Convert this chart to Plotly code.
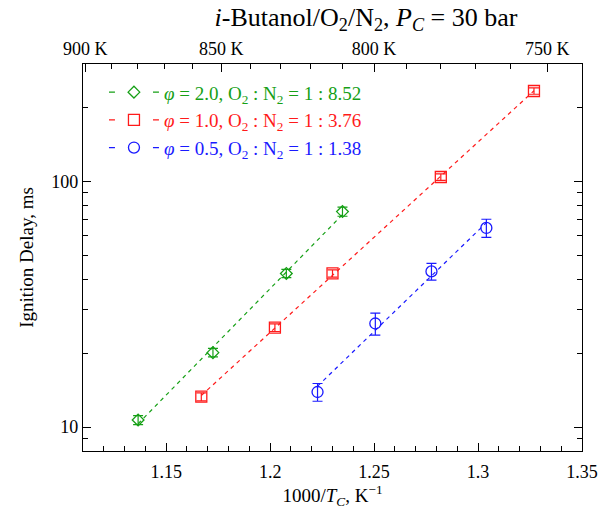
import numpy as np
import plotly.graph_objects as go

# ---------------- data ----------------
green_x = [1.1365, 1.1725, 1.2078, 1.2348]
green_y = [10.7, 20.1, 42.2, 75.3]
green_err = [0.45, 0.8, 1.6, 3.2]

red_x = [1.1669, 1.2023, 1.2300, 1.2821, 1.3269]
red_y = [13.3, 25.4, 42.2, 104.1, 233.0]
red_err = [0.5, 0.9, 1.4, 3.2, 7.0]

blue_x = [1.2228, 1.2506, 1.2776, 1.3040]
blue_y = [13.9, 26.4, 43.0, 64.6]
blue_err = [1.15, 2.7, 3.4, 5.5]

legend_labels = [
    '<i>φ</i> = 2.0, O<sub>2</sub> : N<sub>2</sub> = 1 : 8.52',
    '<i>φ</i> = 1.0, O<sub>2</sub> : N<sub>2</sub> = 1 : 3.76',
    '<i>φ</i> = 0.5, O<sub>2</sub> : N<sub>2</sub> = 1 : 1.38',
]

x_ticks = [1.15, 1.2, 1.25, 1.3, 1.35]
x_ticklabels = ['1.15', '1.2', '1.25', '1.3', '1.35']
x_minor = [1.12, 1.13, 1.14, 1.16, 1.17, 1.18, 1.19, 1.21, 1.22, 1.23, 1.24,
           1.26, 1.27, 1.28, 1.29, 1.31, 1.32, 1.33, 1.34]
top_temps = [900, 850, 800, 750]
top_minor_temps = [890, 880, 870, 860, 840, 830, 820, 810, 790, 780, 770, 760, 740]
y_ticks = [10, 100]
y_minor = [8, 9, 20, 30, 40, 50, 60, 70, 80, 90, 200, 300]

GREEN = '#16a016'
RED = '#ff1a1a'
BLUE = '#1a1aff'
FONT = 'Liberation Serif'
X_RANGE = [1.11, 1.35]
Y_RANGE = [np.log10(8), np.log10(300)]

fig = go.Figure()

series = [
    (green_x, green_y, green_err, GREEN, 'diamond-open', 9, legend_labels[0]),
    (red_x, red_y, red_err, RED, 'square-open', 11, legend_labels[1]),
    (blue_x, blue_y, blue_err, BLUE, 'circle-open', 11, legend_labels[2]),
]

for xs, ys, es, col, sym, msize, lab in series:
    xa = np.array(xs)
    coef = np.polyfit(xa, np.log10(ys), 1)
    xf = np.array([xa.min(), xa.max()])
    yf = 10 ** np.polyval(coef, xf)
    fig.add_trace(go.Scatter(x=xf, y=yf, mode='lines', showlegend=False,
                             line=dict(color=col, width=1.2, dash='4px,4px'),
                             hoverinfo='skip'))
    fig.add_trace(go.Scatter(x=xs, y=ys, mode='markers', showlegend=False,
                             marker=dict(symbol=sym, size=msize, color=col,
                                         line=dict(width=1.3, color=col)),
                             error_y=dict(type='data', array=es, color=col,
                                          thickness=1.2, width=5)))
    fig.add_trace(go.Scatter(x=[None], y=[None], mode='lines+markers',
                             name='<span style="color:%s">%s</span>' % (col, lab),
                             marker=dict(symbol=sym, size=msize, color=col,
                                         line=dict(width=1.3, color=col)),
                             line=dict(color=col, width=1.2, dash='6px,38px,6px')))

# invisible traces that activate the extra tick axes
inv = dict(mode='markers', marker=dict(opacity=0), showlegend=False, hoverinfo='skip')
fig.add_trace(go.Scatter(x=[1000.0 / t for t in top_temps], y=[y_ticks[0]] * len(top_temps),
                         xaxis='x2', yaxis='y', **inv))
fig.add_trace(go.Scatter(x=[1000.0 / t for t in top_minor_temps],
                         y=[y_ticks[0]] * len(top_minor_temps), xaxis='x4', yaxis='y', **inv))
fig.add_trace(go.Scatter(x=x_minor[:len(y_minor)], y=y_minor, xaxis='x3', yaxis='y2', **inv))

axis_font = dict(family=FONT, size=18, color='black')
common = dict(showgrid=False, zeroline=False, automargin=False,
              tickcolor='black', tickwidth=1)

fig.update_layout(
    width=607, height=512,
    margin=dict(l=83, r=25, t=64, b=61),
    paper_bgcolor='white', plot_bgcolor='white',
    font=dict(family=FONT, size=17, color='black'),
    title=dict(text='<i>i</i>-Butanol/O<sub>2</sub>/N<sub>2</sub>, <i>P<sub>C</sub></i> = 30 bar',
               x=0.603, xanchor='center', y=0.967, yanchor='middle',
               font=dict(family=FONT, size=26, color='black')),
    showlegend=True,
    legend=dict(x=0.042, y=0.976, xanchor='left', yanchor='top',
                bgcolor='rgba(0,0,0,0)', font=dict(family=FONT, size=19),
                itemwidth=50, tracegroupgap=0),
    xaxis=dict(range=X_RANGE, tickmode='array', tickvals=x_ticks, ticktext=x_ticklabels,
               ticks='inside', ticklen=8, ticklabelstandoff=4,
               showline=True, linecolor='black', linewidth=1.2, mirror=False,
               tickfont=axis_font,
               title=dict(text='1000/<i>T<sub>C</sub></i>, K<sup>−1</sup>',
                          font=dict(family=FONT, size=19), standoff=6),
               **common),
    xaxis2=dict(range=X_RANGE, overlaying='x', side='top', anchor='y',
                tickmode='array', tickvals=[1000.0 / t for t in top_temps],
                ticktext=['%d K' % t for t in top_temps],
                ticks='inside', ticklen=8, ticklabelstandoff=1,
                showline=True, linecolor='black', linewidth=1.2,
                tickfont=axis_font, **common),
    xaxis3=dict(range=X_RANGE, overlaying='x', side='bottom', anchor='y',
                tickmode='array', tickvals=x_minor, ticks='inside', ticklen=5,
                showticklabels=False, showline=False, **common),
    xaxis4=dict(range=X_RANGE, overlaying='x', side='top', anchor='y',
                tickmode='array', tickvals=[1000.0 / t for t in top_minor_temps],
                ticks='inside', ticklen=5, showticklabels=False, showline=False,
                **common),
    yaxis=dict(type='log', range=Y_RANGE,
               tickmode='array', tickvals=y_ticks, ticktext=[str(v) for v in y_ticks],
               ticks='inside', ticklen=8,
               showline=True, linecolor='black', linewidth=1.2, mirror='ticks',
               tickfont=axis_font,
               title=dict(text='Ignition Delay, ms',
                          font=dict(family=FONT, size=19), standoff=12),
               **common),
    yaxis2=dict(type='log', range=Y_RANGE, overlaying='y', side='left', anchor='x',
                tickmode='array', tickvals=y_minor, ticks='inside', ticklen=5,
                mirror='ticks', showticklabels=False, showline=False, **common),
)

fig.write_html('out.html', config={'displayModeBar': False},
               post_script="document.body.style.margin='0';document.body.style.padding='0';")
